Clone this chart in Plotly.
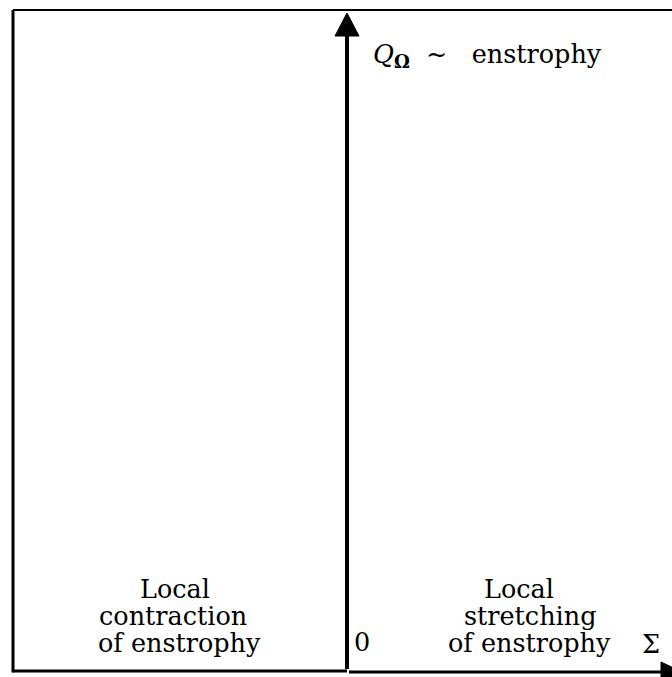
import plotly.graph_objects as go

# ---- content ----
left_region_lines = ["Local", "contraction", "of enstrophy"]
right_region_lines = ["Local", "stretching", "of enstrophy"]
y_axis_label = "<i>Q</i><sub><b>Ω</b></sub>  ∼   enstrophy"
x_axis_label = "Σ"
origin_label = "0"

# ---- geometry (screen pixels; page body margin removed below) ----
W, H = 672, 677
ML, MT, MR, MB = 13, 10, 0, 0
plot_left, plot_top = ML, MT
plot_bottom = H - MB
plot_h = H - MT - MB
x0_px = 347  # screen pixel of the origin (Σ = 0)
y0_px = 671  # screen pixel of the baseline (Q = 0)
px_per_unit_x = x0_px - plot_left
px_per_unit_y = y0_px - plot_top


def X(px):
    return (px - x0_px) / px_per_unit_x


def Y(py):
    return (y0_px - py) / px_per_unit_y


def PY(py):  # paper fraction for a screen row
    return (plot_bottom - py) / plot_h


x_range = [X(plot_left), X(W - MR)]
y_range = [Y(plot_bottom), Y(plot_top)]

FONT = "DejaVu Serif"
FS = 25.5
BLACK = "#000000"

fig = go.Figure()

# frame: top, left, bottom-left
fig.add_shape(type="line", xref="paper", yref="paper", x0=0, x1=1, y0=1, y1=1,
              line=dict(color=BLACK, width=2))
fig.add_shape(type="line", xref="paper", yref="paper", x0=0, x1=0, y0=PY(672.5), y1=1,
              line=dict(color=BLACK, width=3))
fig.add_shape(type="line", xref="x", yref="y", x0=x_range[0], x1=X(347), y0=Y(671), y1=Y(671),
              line=dict(color=BLACK, width=3))

# vertical arrow (Q axis)
fig.add_shape(type="line", xref="x", yref="y", x0=0, x1=0, y0=Y(669), y1=Y(30),
              line=dict(color=BLACK, width=4))
fig.add_shape(type="path", xref="x", yref="y", xsizemode="pixel", ysizemode="pixel",
              xanchor=0, yanchor=Y(13), path="M0,0 L-12,-23 L12,-23 Z",
              fillcolor=BLACK, line=dict(color=BLACK, width=1))
# horizontal arrow (Σ axis)
fig.add_shape(type="line", xref="x", yref="y", x0=X(349), x1=X(668), y0=Y(672), y1=Y(672),
              line=dict(color=BLACK, width=3))
fig.add_shape(type="path", xref="x", yref="y", xsizemode="pixel", ysizemode="pixel",
              xanchor=X(682), yanchor=Y(672), path="M0,0 L-21,10 L-21,-10 Z",
              fillcolor=BLACK, line=dict(color=BLACK, width=1))

# axis labels
fig.add_annotation(x=X(371), y=Y(55), xref="x", yref="y", text=y_axis_label,
                   showarrow=False, xanchor="left", yanchor="middle",
                   font=dict(family=FONT, size=FS, color=BLACK))
fig.add_annotation(x=X(651), y=Y(644), xref="x", yref="y", text=x_axis_label,
                   showarrow=False, xanchor="center", yanchor="middle",
                   font=dict(family=FONT, size=FS, color=BLACK))
fig.add_annotation(x=X(362), y=Y(642), xref="x", yref="y", text=origin_label,
                   showarrow=False, xanchor="center", yanchor="middle",
                   font=dict(family=FONT, size=FS, color=BLACK))

# region labels
left_centers = [175, 173, 179]
right_centers = [519, 530, 529]
line_mid_px = [589, 616, 643]
for txt, cx, cy in zip(left_region_lines, left_centers, line_mid_px):
    fig.add_annotation(x=X(cx), y=Y(cy), xref="x", yref="y", text=txt, showarrow=False,
                       xanchor="center", yanchor="middle",
                       font=dict(family=FONT, size=FS, color=BLACK))
for txt, cx, cy in zip(right_region_lines, right_centers, line_mid_px):
    fig.add_annotation(x=X(cx), y=Y(cy), xref="x", yref="y", text=txt, showarrow=False,
                       xanchor="center", yanchor="middle",
                       font=dict(family=FONT, size=FS, color=BLACK))

fig.update_xaxes(range=x_range, visible=False, showgrid=False, zeroline=False, fixedrange=True)
fig.update_yaxes(range=y_range, visible=False, showgrid=False, zeroline=False, fixedrange=True)
fig.update_layout(width=W, height=H, margin=dict(l=ML, r=MR, t=MT, b=MB),
                  paper_bgcolor="white", plot_bgcolor="white", showlegend=False)

fig.write_html("out.html", config={"displayModeBar": False},
               post_script="document.body.style.margin='0';"
                           "document.body.style.overflow='hidden';")
